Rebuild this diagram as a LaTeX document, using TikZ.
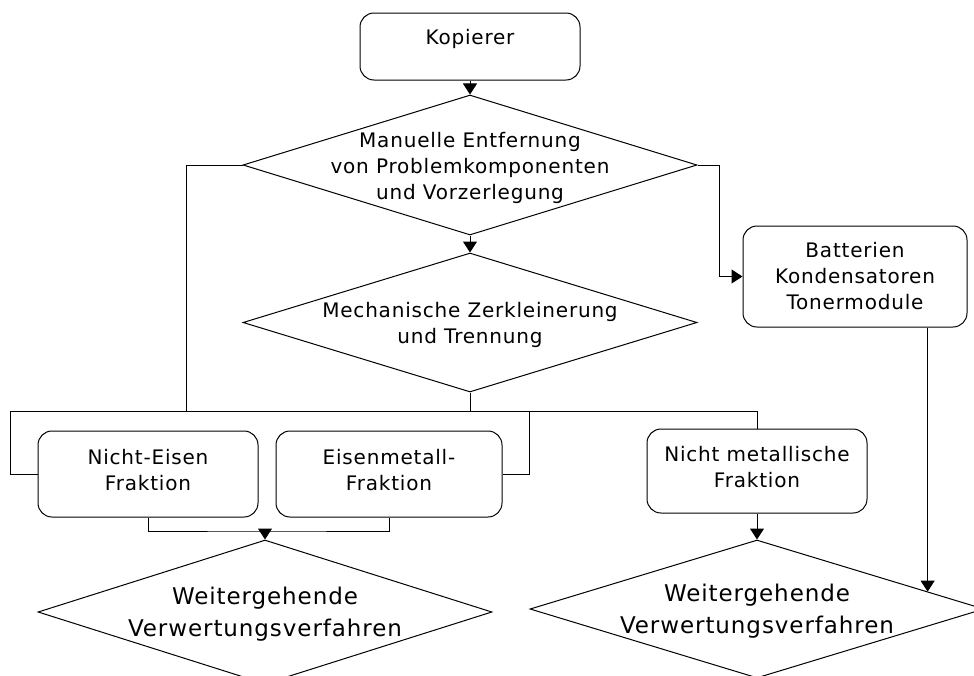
\documentclass[tikz,border=0pt]{standalone}
\usepackage{fontspec}
\setmainfont{DejaVu Sans}[LetterSpace=4]
\usetikzlibrary{arrows.meta,positioning,calc,shapes.geometric}

\begin{document}
\begin{tikzpicture}[x=0.5pt,y=-0.5pt,
    box/.style={draw,line width=0.5pt,rounded corners=7pt,minimum width=110pt,minimum height=43pt,align=center,inner sep=0pt,font=\fontsize{10}{13}\selectfont},
    rhombus/.style={draw,line width=0.5pt,diamond,minimum width=227pt,minimum height=70pt,inner sep=0pt},
    txt/.style={align=center,inner sep=0pt,font=\fontsize{10}{13}\selectfont},
    bigtxt/.style={align=center,inner sep=0pt,font=\fontsize{11.5}{16}\selectfont},
    wire/.style={line width=0.5pt},
    arrow/.style={wire,-{Triangle[length=5.5pt,width=7pt]}}
  ]
  \clip (0,0) rectangle (974,675);
  \node[box,minimum height=33.5pt,text depth=9.8pt] (kop) at (470,46.5) {Kopierer};
  \node[rhombus] (man) at (470,165) {};
  \node[txt] (manT) at (470,168) {Manuelle Entfernung\\von Problemkomponenten\\und Vorzerlegung};
  \node[rhombus,minimum height=69.5pt] (mech) at (470,322.5) {};
  \node[txt] (mechT) at (470,325) {Mechanische Zerkleinerung\\und Trennung};
  \node[box,minimum width=112pt,minimum height=50.5pt] (bat) at (855,276.5) {Batterien\\Kondensatoren\\Tonermodule};
  \node[box,text depth=4pt] (ne) at (148,474) {Nicht-Eisen\\Fraktion};
  \node[box,minimum width=113pt,text depth=4pt] (fe) at (389,474) {Eisenmetall-\\Fraktion};
  \node[box,minimum height=42pt,text depth=4pt] (nm) at (757,471) {Nicht metallische\\Fraktion};
  \node[rhombus,minimum height=72pt] (w1) at (265,612) {};
  \node[bigtxt] (w1T) at (265,614) {Weitergehende\\Verwertungsverfahren};
  \node[rhombus,minimum height=69pt] (w2) at (757,609) {};
  \node[bigtxt] (w2T) at (757,611) {Weitergehende\\Verwertungsverfahren};

  \coordinate (tap) at (186,411);
  \coordinate (busW) at (10,411);
  \coordinate (busE) at (529,411);
  \coordinate (join) at (265,531);
  \coordinate (hit) at ($(w2.north)!0.75!(w2.east)$);

  \draw[arrow] (kop) -- (man);
  \draw[arrow] (man) -- (mech);
  \draw[arrow] (man.east) -- ++(22,0) |- (bat.west);
  \draw[wire] (man.west) -| (tap);
  \draw[wire] (mech.south) -- (mech.south |- busW);
  \draw[wire] (ne.west) -| (busW) -- (busE) |- (fe.east);
  \draw[wire] (busE) -| (nm.north);
  \draw[wire] (ne.south) |- (join) -| (fe.south);
  \draw[arrow] (join) -- (w1.north);
  \draw[arrow] (nm) -- (w2);
  \draw[arrow] (bat.south -| hit) -- (hit);
\end{tikzpicture}
\end{document}
